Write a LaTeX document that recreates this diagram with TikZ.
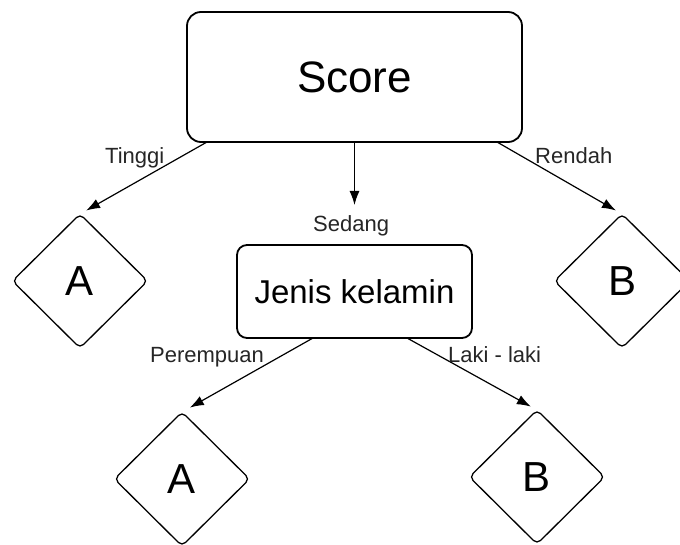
\documentclass[tikz,border=0pt]{standalone}
\usepackage{fontspec}
\setmainfont{Liberation Sans}
\usetikzlibrary{shapes.geometric,arrows.meta}
\begin{document}
\begin{tikzpicture}[x=1pt,y=-1pt,
  box/.style={draw, rounded corners=14pt, line width=1.8pt, inner sep=0pt, outer sep=0pt},
  dia/.style={draw, diamond, rounded corners=5pt, line width=1.3pt, minimum width=135pt, minimum height=134pt, inner sep=0pt, outer sep=0pt, font=\fontsize{42}{46}\selectfont},
  lbl/.style={font=\fontsize{22}{24}\selectfont, text=black!85, inner sep=0pt, anchor=base west},
  arr/.style={-{Latex[length=14pt,width=10pt]}, line width=1.2pt}]
\useasboundingbox (0,0) rectangle (680,545);
\fill[white] (0,0) rectangle (680,545);
\node[box, minimum width=335pt, minimum height=130pt, font=\fontsize{44}{48}\selectfont] (score) at (354.5,77) {Score};
\node[box, rounded corners=10pt, minimum width=235pt, minimum height=93pt, font=\fontsize{33}{36}\selectfont] (jk) at (354.5,291.5) {Jenis kelamin};
\node[dia] (a1) at (80,281) {A};
\node[dia] (b1) at (622,281) {B};
\node[dia] (a2) at (182,479) {A};
\node[dia] (b2) at (537,477) {B};
\draw[arr, shorten >=7pt] ([xshift=20pt]score.south west) -- (a1.north);
\draw[arr, shorten >=7pt] ([xshift=-25pt]score.south east) -- (b1.north);
\draw[arr, shorten >=40pt] (score.south) -- (jk.north);
\draw[arr, shorten >=9pt] ([xshift=-41.5pt]jk.south) -- (a2.north);
\draw[arr, shorten >=7pt] ([xshift=52.5pt]jk.south) -- (b2.north);
\node[lbl] (t1) at (105,164) {Tinggi};
\node[lbl] (t2) at (535,164) {Rendah};
\node[lbl] (t3) at (313,232) {Sedang};
\node[lbl] (t4) at (150,362) {Perempuan};
\node[lbl] (t5) at (448,362) {Laki - laki};
\end{tikzpicture}
\end{document}
